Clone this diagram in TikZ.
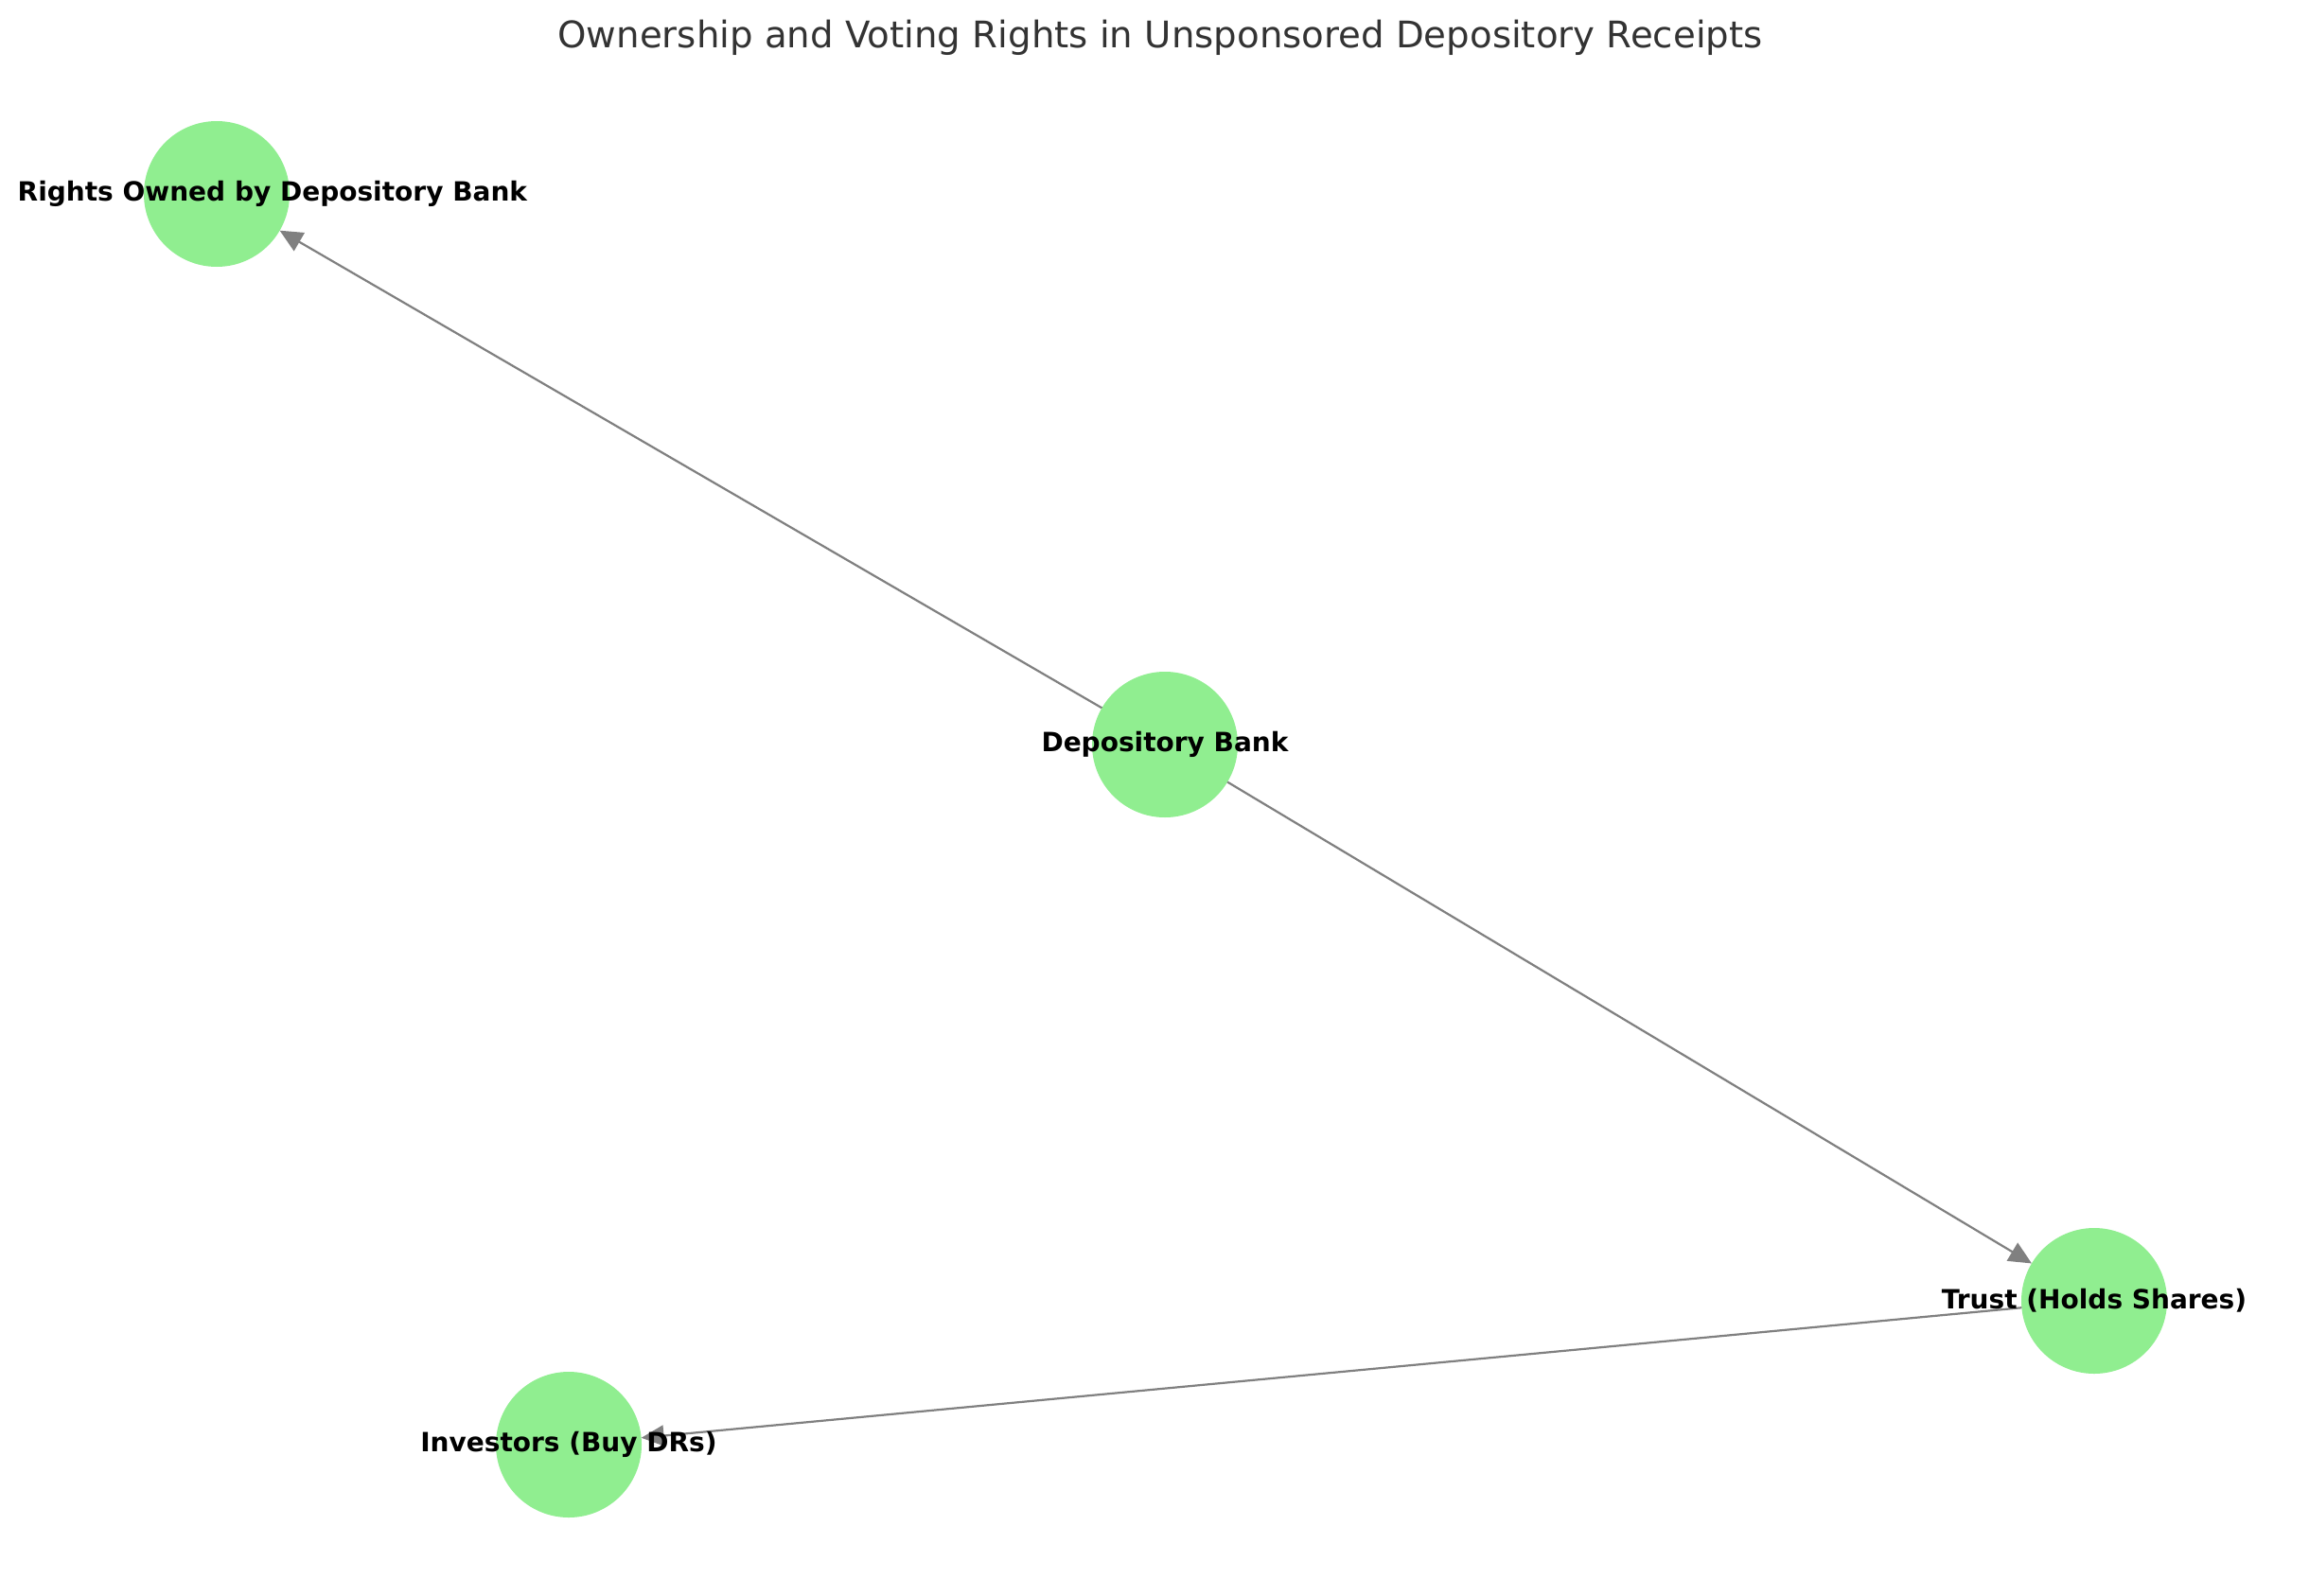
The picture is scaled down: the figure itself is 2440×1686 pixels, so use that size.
\documentclass[tikz,border=0pt]{standalone}
\usepackage{fontspec}
\setmainfont{DejaVu Sans}
\usetikzlibrary{arrows.meta}
\definecolor{nodegreen}{HTML}{90EE90}
\definecolor{edgegray}{HTML}{808080}
\definecolor{titlegray}{HTML}{333333}
\begin{document}
\begin{tikzpicture}[x=1pt,y=-1pt,
  dot/.style={circle,fill=nodegreen,minimum size=154pt,inner sep=0pt,outer sep=0pt},
  lab/.style={font=\fontsize{28}{32}\selectfont\bfseries,text=black,inner sep=0pt},
  edge/.style={draw=edgegray,line width=2.2pt,-{Triangle[length=24pt,width=22pt]}}]
\useasboundingbox (0,0) rectangle (2440,1686);
\fill[white] (0,0) rectangle (2440,1686);
\node[font=\fontsize{38.7}{44}\selectfont,text=titlegray,anchor=base] (title) at (1226,51) {Ownership and Voting Rights in Unsponsored Depository Receipts};
\node[dot] (rights) at (229,205) {};
\node[dot] (bank) at (1231,787) {};
\node[dot] (trust) at (2213,1375) {};
\node[dot] (inv) at (601,1527) {};
\draw[edge] (bank) -- (rights);
\draw[edge] (bank) -- (trust);
\draw[edge] (trust) -- (inv);
\node[lab,anchor=west] (rightsl) at (18.5,205) {Rights Owned by Depository Bank};
\node[lab] (bankl) at (bank) {Depository Bank};
\node[lab] (trustl) at (trust) {Trust (Holds Shares)};
\node[lab] (invl) at (inv) {Investors (Buy DRs)};
\end{tikzpicture}
\end{document}
